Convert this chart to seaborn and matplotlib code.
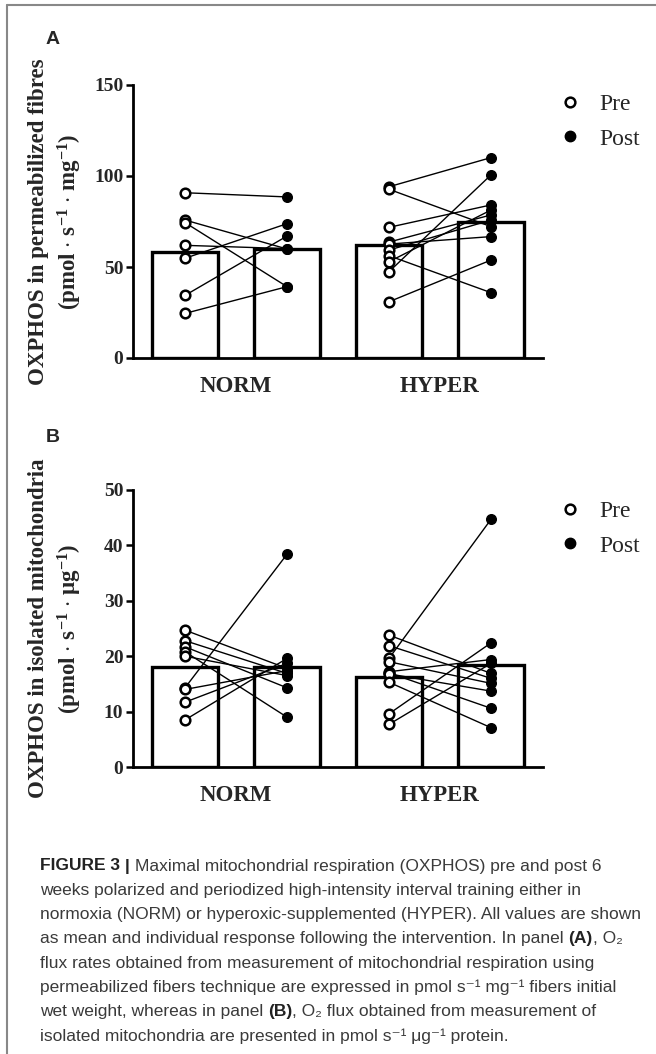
import numpy as np
import pandas as pd
import seaborn as sns
import matplotlib.pyplot as plt
from matplotlib.lines import Line2D

# Panel A: OXPHOS in permeabilized fibres, paired pre/post per subject
norm_fib_pre = [90.8, 75.8, 74.4, 61.9, 54.8, 34.4, 24.5]
norm_fib_post = [88.5, 59.9, 39.2, 60.1, 73.8, 67.0, 39.2]
hyper_fib_pre = [94.1, 92.7, 71.8, 63.7, 62.6, 59.3, 56.2, 52.9, 47.4, 30.9]
hyper_fib_post = [110.1, 72.2, 84.1, 78.6, 66.7, 75.8, 35.9, 81.3, 100.6, 53.8]
fib_means = [58.5, 60.0, 62.0, 74.5]

# Panel B: OXPHOS in isolated mitochondria
norm_mito_pre = [24.7, 22.8, 21.7, 20.8, 20.0, 14.3, 14.0, 11.7, 8.5]
norm_mito_post = [17.8, 16.9, 14.3, 9.0, 16.5, 38.4, 17.4, 18.7, 19.6]
hyper_mito_pre = [23.8, 21.9, 19.6, 19.0, 17.2, 17.0, 16.8, 15.3, 9.6, 7.7]
hyper_mito_post = [16.9, 16.0, 44.7, 15.1, 19.4, 10.6, 13.7, 7.1, 22.4, 18.7]
mito_means = [18.0, 18.0, 16.2, 18.4]

bar_labels = ['NORM Pre', 'NORM Post', 'HYPER Pre', 'HYPER Post']
groups = ['NORM', 'HYPER']
legend_labels = ['Pre', 'Post']

caption = [
    [('FIGURE 3', True), (' | ', True), ('Maximal mitochondrial respiration (OXPHOS) pre and post 6', False)],
    [('weeks polarized and periodized high-intensity interval training either in', False)],
    [('normoxia (NORM) or hyperoxic-supplemented (HYPER). All values are shown', False)],
    [('as mean and individual response following the intervention. In panel ', False), ('(A)', True), (', O\u2082', False)],
    [('flux rates obtained from measurement of mitochondrial respiration using', False)],
    [('permeabilized fibers technique are expressed in pmol s\u207b\u00b9 mg\u207b\u00b9 fibers initial', False)],
    [('wet weight, whereas in panel ', False), ('(B)', True), (', O\u2082 flux obtained from measurement of', False)],
    [('isolated mitochondria are presented in pmol s\u207b\u00b9 \u03bcg\u207b\u00b9 protein.', False)],
]

sns.set_theme(style='ticks')
plt.rcParams['font.family'] = ['Liberation Serif', 'DejaVu Serif']
plt.rcParams['mathtext.fontset'] = 'custom'
plt.rcParams['mathtext.rm'] = 'Liberation Serif:bold'
plt.rcParams['mathtext.bf'] = 'Liberation Serif:bold'
plt.rcParams['mathtext.it'] = 'Liberation Serif:italic:bold'

W, H = 656, 1054
fig = plt.figure(figsize=(W / 100, H / 100), dpi=100)


def px_axes(left, top, right, bottom):
    return fig.add_axes([left / W, 1 - bottom / H, (right - left) / W, (bottom - top) / H])


def draw_panel(ax, pairs, means, ymax, step, ylabel, leg_y):
    sns.barplot(x=bar_labels, y=means, order=bar_labels, color='white', saturation=1,
                edgecolor='black', linewidth=2.4, width=0.64, errorbar=None, ax=ax, zorder=1)
    for i, (pre, post) in enumerate(pairs):
        for a, b in zip(pre, post):
            ax.plot([2 * i, 2 * i + 1], [a, b], color='black', lw=1.0, zorder=3)
        sns.scatterplot(x=np.full(len(pre), 2 * i), y=pre, s=48, color='white',
                        edgecolor='black', linewidth=1.8, ax=ax, zorder=4)
        sns.scatterplot(x=np.full(len(post), 2 * i + 1), y=post, s=48, color='black',
                        edgecolor='black', linewidth=1.0, ax=ax, zorder=4)
    ax.set_xlim(-0.51, 3.51)
    ax.set_ylim(0, ymax)
    ax.set_yticks(np.arange(0, ymax + 1, step))
    ax.set_xticks([0.5, 2.5])
    ax.set_xticklabels(groups, fontsize=16.5, fontweight='bold')
    ax.tick_params(axis='x', length=0, pad=13)
    ax.tick_params(axis='y', length=5, width=1.8, pad=2, labelsize=14, color='black')
    for lab in ax.get_yticklabels():
        lab.set_fontweight('bold')
    sns.despine(ax=ax)
    for sp in ['left', 'bottom']:
        ax.spines[sp].set_linewidth(2.0)
        ax.spines[sp].set_color('black')
    ax.set_xlabel('')
    ax.set_ylabel(ylabel, fontsize=16.5, fontweight='bold', linespacing=1.3)
    ax.yaxis.set_label_coords((56 - 133) / 410, 0.5)
    ax.yaxis.label.set_va('center')

    handles = [Line2D([], [], ls='none', marker='o', ms=7, mfc='white', mec='black', mew=1.8),
               Line2D([], [], ls='none', marker='o', ms=7.5, mfc='black', mec='black')]
    ax.legend(handles, legend_labels, loc='center left',
              bbox_to_anchor=(558 / W, 1 - leg_y / H), bbox_transform=fig.transFigure,
              frameon=False, borderpad=0, borderaxespad=0, handlelength=1.0,
              handletextpad=0.75, labelspacing=0.55,
              prop={'family': 'Liberation Serif', 'size': 17, 'weight': 'normal'})


axA = px_axes(133, 85, 543, 358)
draw_panel(axA, [(norm_fib_pre, norm_fib_post), (hyper_fib_pre, hyper_fib_post)], fib_means,
           150, 50, 'OXPHOS in permeabilized fibres\n(pmol $\\cdot$ s$^{-1}$ $\\cdot$ mg$^{-1}$)', 121.5)

axB = px_axes(133, 490, 543, 767)
draw_panel(axB, [(norm_mito_pre, norm_mito_post), (hyper_mito_pre, hyper_mito_post)], mito_means,
           50, 10, 'OXPHOS in isolated mitochondria\n(pmol $\\cdot$ s$^{-1}$ $\\cdot$ \u03bcg$^{-1}$)', 528.5)

letter_font = dict(family=['Liberation Sans', 'DejaVu Sans'], weight='bold', size=14)
fig.text(53 / W, 1 - 40 / H, 'A', ha='center', va='center', **letter_font)
fig.text(53 / W, 1 - 438 / H, 'B', ha='center', va='center', **letter_font)

# frame lines of the figure box
fig.add_artist(Line2D([7 / W, 7 / W], [0, 1 - 5 / H], color='#888888', lw=1.5,
                      transform=fig.transFigure))
fig.add_artist(Line2D([7 / W, 1], [1 - 5 / H, 1 - 5 / H], color='#888888', lw=1.5,
                      transform=fig.transFigure))

# caption written piece by piece so bold parts sit inline
renderer = fig.canvas.get_renderer()
cap_family = ['Liberation Sans', 'DejaVu Sans']


def seg_width(s, bold, size):
    kw = dict(family=cap_family, size=size, weight='bold' if bold else 'normal')
    t1 = fig.text(0, 0, '|' + s + '|', **kw)
    t2 = fig.text(0, 0, '||', **kw)
    w = t1.get_window_extent(renderer).width - t2.get_window_extent(renderer).width
    t1.remove()
    t2.remove()
    return w


# fit the caption to the text column width
base = 14.0
widest = max(sum(seg_width(s, b, base) for s, b in line) for line in caption)
cap_size = base * 602 / widest

for n, line in enumerate(caption):
    x = 40
    y = 866 + 24.3 * n
    for s, bold in line:
        fig.text(x / W, 1 - y / H, s, ha='left', va='center', family=cap_family, size=cap_size,
                 weight='bold' if bold else 'normal', color='#222222' if bold else '#3a3a3a')
        x += seg_width(s, bold, cap_size)

fig.savefig('out.png', dpi=100)
